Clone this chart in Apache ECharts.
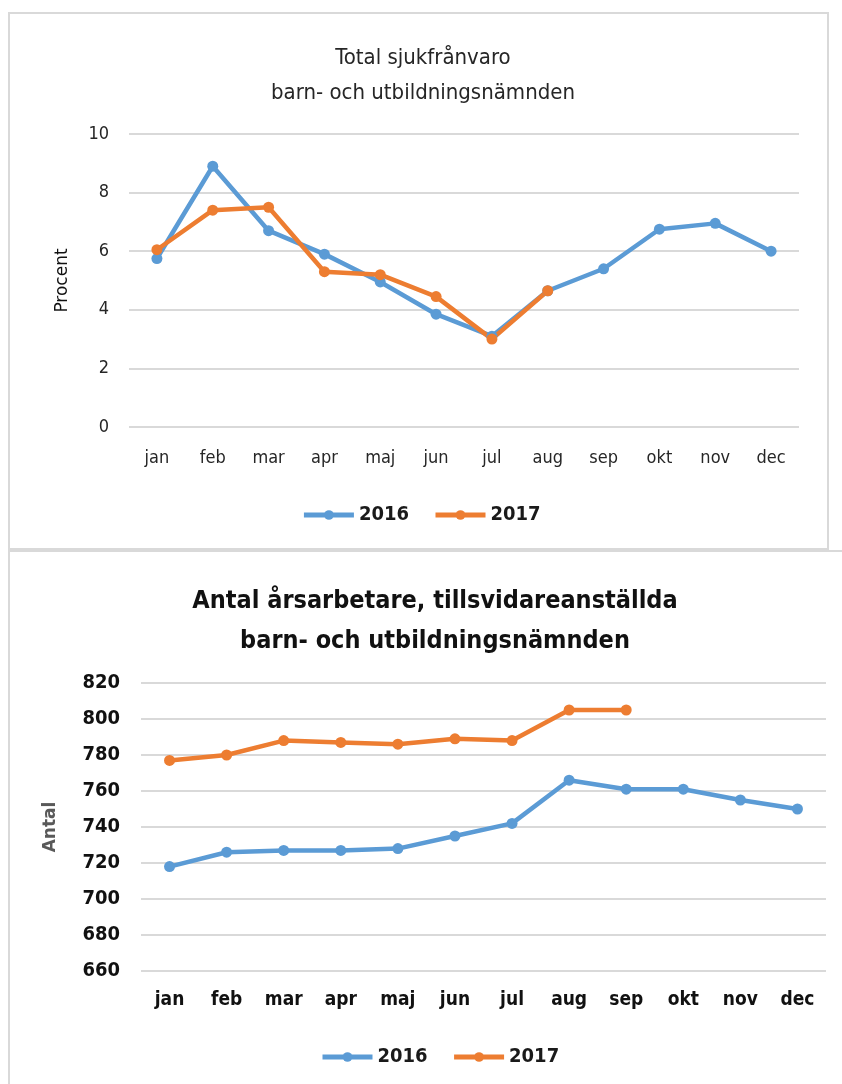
<!DOCTYPE html>
<html>
<head>
<meta charset="utf-8">
<script src="https://cdn.jsdelivr.net/npm/echarts@6/dist/echarts.min.js"></script>
<style>
html, body { margin: 0; padding: 0; background: #ffffff; }
#main { width: 842px; height: 1084px; }
</style>
</head>
<body>
<div id="main"></div>
<script>
// månader
var months = ['jan', 'feb', 'mar', 'apr', 'maj', 'jun', 'jul', 'aug', 'sep', 'okt', 'nov', 'dec'];
var legendNames = ['2016', '2017'];

// sjukfrånvaro, procent
var sick2016 = [5.75, 8.9, 6.7, 5.9, 4.95, 3.85, 3.1, 4.65, 5.4, 6.75, 6.95, 6.0];
var sick2017 = [6.05, 7.4, 7.5, 5.3, 5.2, 4.45, 3.0, 4.65];

// årsarbetare, antal
var staff2016 = [718, 726, 727, 727, 728, 735, 742, 766, 761, 761, 755, 750];
var staff2017 = [777, 780, 788, 787, 786, 789, 788, 805, 805];

var font = "'Liberation Sans Narrow', 'DejaVu Sans Condensed', 'Liberation Sans', sans-serif";
var blue = '#5b9bd5';
var orange = '#ed7d31';

function lineSeries(name, data, color, idx) {
	return {
		name: name,
		type: 'line',
		xAxisIndex: idx,
		yAxisIndex: idx,
		data: data,
		symbol: 'circle',
		symbolSize: 11,
		color: color,
		lineStyle: {width: 4.5, color: color},
		itemStyle: {color: color},
		animation: false
	};
}

var chart = echarts.init(document.getElementById('main'));
var option = {
	backgroundColor: '#ffffff',
	textStyle: {fontFamily: font},
	title: [
		{
			text: 'Total sjukfrånvaro\nbarn- och utbildningsnämnden',
			left: 418, top: 36, textAlign: 'center',
			textStyle: {fontFamily: font, fontSize: 22, fontWeight: 'normal', color: '#262626', lineHeight: 35}
		},
		{
			text: 'Antal årsarbetare, tillsvidareanställda\nbarn- och utbildningsnämnden',
			left: 430, top: 576, textAlign: 'center',
			textStyle: {fontFamily: font, fontSize: 25, fontWeight: 'bold', color: '#111111', lineHeight: 40}
		}
	],
	graphic: [
		{type: 'rect', shape: {x: 9, y: 13, width: 819, height: 536}, style: {fill: 'none', stroke: '#d9d9d9', lineWidth: 2}, silent: true},
		{type: 'rect', shape: {x: 9, y: 551, width: 860, height: 560}, style: {fill: 'none', stroke: '#d9d9d9', lineWidth: 2}, silent: true}
	],
	legend: [
		{
			data: legendNames, top: 500, left: 'center',
			itemWidth: 50, itemHeight: 12, itemGap: 24,
			lineStyle: {width: 5},
			textStyle: {fontFamily: font, fontSize: 20, fontWeight: 'bold', color: '#1a1a1a'}
		},
		{
			data: legendNames, top: 1042, left: 315,
			itemWidth: 50, itemHeight: 12, itemGap: 24,
			lineStyle: {width: 5},
			textStyle: {fontFamily: font, fontSize: 20, fontWeight: 'bold', color: '#1a1a1a'}
		}
	],
	grid: [
		{left: 129, top: 134, width: 670, height: 293},
		{left: 141, top: 683, width: 685, height: 288}
	],
	xAxis: [
		{
			type: 'category', gridIndex: 0, data: months,
			axisLine: {show: false}, axisTick: {show: false},
			axisLabel: {margin: 22, fontFamily: font, fontSize: 18, color: '#262626'}
		},
		{
			type: 'category', gridIndex: 1, data: months,
			axisLine: {show: false}, axisTick: {show: false},
			axisLabel: {margin: 20, fontFamily: font, fontSize: 19, fontWeight: 'bold', color: '#111111'}
		}
	],
	yAxis: [
		{
			type: 'value', gridIndex: 0, min: 0, max: 10, interval: 2,
			name: 'Procent', nameLocation: 'middle', nameGap: 58, nameRotate: 90,
			nameTextStyle: {fontFamily: "'DejaVu Sans', sans-serif", fontSize: 17, color: '#111111'},
			axisLine: {show: false}, axisTick: {show: false},
			splitLine: {lineStyle: {color: '#d9d9d9', width: 2}},
			axisLabel: {margin: 20, fontFamily: font, fontSize: 18, color: '#262626'}
		},
		{
			type: 'value', gridIndex: 1, min: 660, max: 820, interval: 20,
			name: 'Antal', nameLocation: 'middle', nameGap: 82, nameRotate: 90,
			nameTextStyle: {fontFamily: "'DejaVu Sans', sans-serif", fontSize: 17, fontWeight: 'bold', color: '#595959'},
			axisLine: {show: false}, axisTick: {show: false},
			splitLine: {lineStyle: {color: '#d9d9d9', width: 2}},
			axisLabel: {margin: 21, fontFamily: font, fontSize: 20, fontWeight: 'bold', color: '#111111'}
		}
	],
	series: [
		lineSeries('2016', sick2016, blue, 0),
		lineSeries('2017', sick2017, orange, 0),
		lineSeries('2016', staff2016, blue, 1),
		lineSeries('2017', staff2017, orange, 1)
	]
};
chart.setOption(option);
</script>
</body>
</html>
